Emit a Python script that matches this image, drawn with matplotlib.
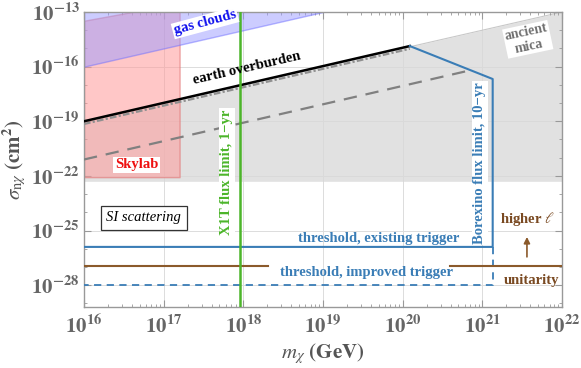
import numpy as np
import matplotlib
matplotlib.use("Agg")
import matplotlib.pyplot as plt
from matplotlib.ticker import FixedLocator, NullFormatter

plt.rcParams['font.family'] = ['Liberation Serif', 'DejaVu Serif']
plt.rcParams['mathtext.fontset'] = 'stix'

# ---- data (log10 values) ----
xlim_log = [16, 22]
ylim_log = [-29.2, -13]
x_tick_exp = [16, 17, 18, 19, 20, 21, 22]
y_tick_exp = [-28, -25, -22, -19, -16, -13]

mica_x = [16, 22]
mica_top = [-19.0, -13.0]
mica_bottom = -22.3

gas_x = [16, 22]
gas_bottom = [-16.0, -10.0]

skylab_x = [16, 17.2]
skylab_top = [-13.48, -12.52]
skylab_bottom = -22.07

earth_x = [16, 20.09]
earth_y = [-19.0, -14.87]
earth_dd_y = [-19.15, -15.02]

dash_x = [16, 20.8]
dash_y = [-21.1, -16.25]

borex_x = [20.09, 21.13, 21.13, 16]
borex_y = [-14.87, -16.68, -25.9, -25.9]

improved_x = [21.13, 21.13, 16]
improved_y = [-25.9, -28.0, -28.0]

unit_y = -26.94
unit_seg1 = [16, 18.31]
unit_seg2 = [20.59, 22]

x1t_x = 17.96

P = lambda v: 10.0 ** np.asarray(v, dtype=float)

fig = plt.figure(figsize=(5.81, 3.68), dpi=100)
ax = fig.add_axes([84/581, 1-307/368, (562-84)/581, (307-12)/368])
ax.set_xscale('log')
ax.set_yscale('log')
ax.set_xlim(P(xlim_log[0]), P(xlim_log[1]))
ax.set_ylim(P(ylim_log[0]), P(ylim_log[1]))

# regions
ax.fill_between(P(mica_x), P(mica_bottom), P(mica_top), color='#d8d8d8', alpha=0.75, lw=0, zorder=1)
ax.plot(P(mica_x), P(mica_top), color='#c8c8c8', lw=0.8, zorder=1)
ax.fill_between(P(skylab_x), P(skylab_bottom), P(skylab_top), facecolor='#ff9a9a', alpha=0.55,
                edgecolor='#e07070', lw=1.0, zorder=2)
ax.fill_between(P(gas_x), P(gas_bottom), P(-10), facecolor='#9a9aff', alpha=0.5,
                edgecolor='#7070ff', lw=1.0, zorder=2)

# lines
ax.plot(P(dash_x), P(dash_y), color='#808080', lw=1.6, ls=(0, (6, 4)), zorder=3)
ax.plot(P(earth_x), P(earth_dd_y), color='#909090', lw=1.6, ls=(0, (3, 1, 1, 1)), zorder=3)
ax.plot(P(earth_x), P(earth_y), color='black', lw=1.8, zorder=4)
ax.plot(P(borex_x), P(borex_y), color='#3a7db6', lw=1.5, zorder=4)
ax.plot(P(improved_x), P(improved_y), color='#3a7db6', lw=1.3, ls=(0, (4, 3)), zorder=4)
ax.plot(P(unit_seg1), P([unit_y, unit_y]), color='#8b5a2b', lw=1.5, zorder=4)
ax.plot(P(unit_seg2), P([unit_y, unit_y]), color='#8b5a2b', lw=1.5, zorder=4)
ax.axvline(P(x1t_x), color='#4cb52a', lw=1.8, zorder=5)
ax.annotate('', xy=(P(21.56), P(-25.2)), xytext=(P(21.56), P(-26.6)),
            arrowprops=dict(arrowstyle='-|>', color='#8b5a2b', lw=1.2, mutation_scale=9), zorder=5)

# grid
for e in x_tick_exp[1:-1]:
    ax.axvline(P(e), color='#dcdcdc', lw=0.7, zorder=0.5)
for e in y_tick_exp[:-1]:
    ax.axhline(P(e), color='#dcdcdc', lw=0.7, zorder=0.5)

# texts
bbw = dict(facecolor='white', edgecolor='none', pad=1.0)
ax.text(P(17.52), P(-13.6), 'gas clouds', color='#1010ee', fontsize=10.5, fontweight='bold',
        rotation=15, ha='center', va='center', bbox=bbw, zorder=6)
ax.text(P(18.05), P(-16.1), 'earth overburden', color='black', fontsize=10.5, fontweight='bold',
        rotation=13, ha='center', va='center', zorder=6)
ax.text(P(21.57), P(-14.5), 'ancient\nmica', color='#707070', fontsize=10, fontweight='bold',
        rotation=12, ha='center', va='center', linespacing=1.1, bbox=bbw, zorder=6)
ax.text(P(16.66), P(-21.4), 'Skylab', color='#ee1010', fontsize=10.5, fontweight='bold',
        ha='center', va='center', bbox=bbw, zorder=6)
ax.text(P(17.79), P(-21.8), 'X1T flux limit, 1\u2212yr', color='#4cb52a', fontsize=10.5,
        fontweight='bold', rotation=90, ha='center', va='center', bbox=bbw, zorder=6)
ax.text(P(20.97), P(-21.3), 'Borexino flux limit, 10\u2212yr', color='#3a7db6', fontsize=10.5,
        fontweight='bold', rotation=90, ha='center', va='center', bbox=bbw, zorder=6)
ax.text(P(16.75), P(-24.3), 'SI scattering', color='black', fontsize=10.5, style='italic',
        ha='center', va='center',
        bbox=dict(facecolor='white', edgecolor='#333333', lw=0.9, pad=4.0), zorder=6)
ax.text(P(19.7), P(-25.45), 'threshold, existing trigger', color='#3a7db6', fontsize=10.5,
        fontweight='bold', ha='center', va='center', zorder=6)
ax.text(P(19.55), P(-27.3), 'threshold, improved trigger', color='#3a7db6', fontsize=10.5,
        fontweight='bold', ha='center', va='center', zorder=6)
ax.text(P(21.56), P(-24.35), r'higher $\ell$', color='#7a4a22', fontsize=10.5, fontweight='bold',
        ha='center', va='center', zorder=6)
ax.text(P(21.62), P(-27.75), 'unitarity', color='#7a4a22', fontsize=10.5, fontweight='bold',
        ha='center', va='center', zorder=6)

# ticks
ax.xaxis.set_major_locator(FixedLocator(P(x_tick_exp)))
ax.yaxis.set_major_locator(FixedLocator(P(y_tick_exp)))
xmin = [P(e) * k for e in x_tick_exp[:-1] for k in range(2, 10)]
ax.xaxis.set_minor_locator(FixedLocator(xmin))
ymin = [P(e) for e in range(-29, -12) if e not in y_tick_exp]
ax.yaxis.set_minor_locator(FixedLocator(ymin))
ax.xaxis.set_minor_formatter(NullFormatter())
ax.yaxis.set_minor_formatter(NullFormatter())
ax.set_xticklabels([r'$\mathbf{10^{%d}}$' % e for e in x_tick_exp])
ax.set_yticklabels([r'$\mathbf{10^{%d}}$' % e for e in y_tick_exp])
ax.tick_params(which='both', direction='in', top=True, right=True, colors='#999999',
               labelcolor='#666666', labelsize=15)
ax.tick_params(which='major', length=5, width=0.8)
ax.tick_params(which='minor', length=2.5, width=0.6)
ax.tick_params(axis='x', pad=6)
ax.tick_params(axis='y', pad=3)
for s in ax.spines.values():
    s.set_color('#999999')
    s.set_linewidth(1.0)

ax.set_xlabel(r'$\boldsymbol{m_\chi}$ $\mathbf{(GeV)}$', fontsize=15, color='#555555', labelpad=2)
ax.set_ylabel(r'$\sigma_{\mathrm{n}\chi}$ $\mathbf{(cm^2)}$', fontsize=15, color='#555555', labelpad=2)

fig.savefig('out.png', dpi=100)
